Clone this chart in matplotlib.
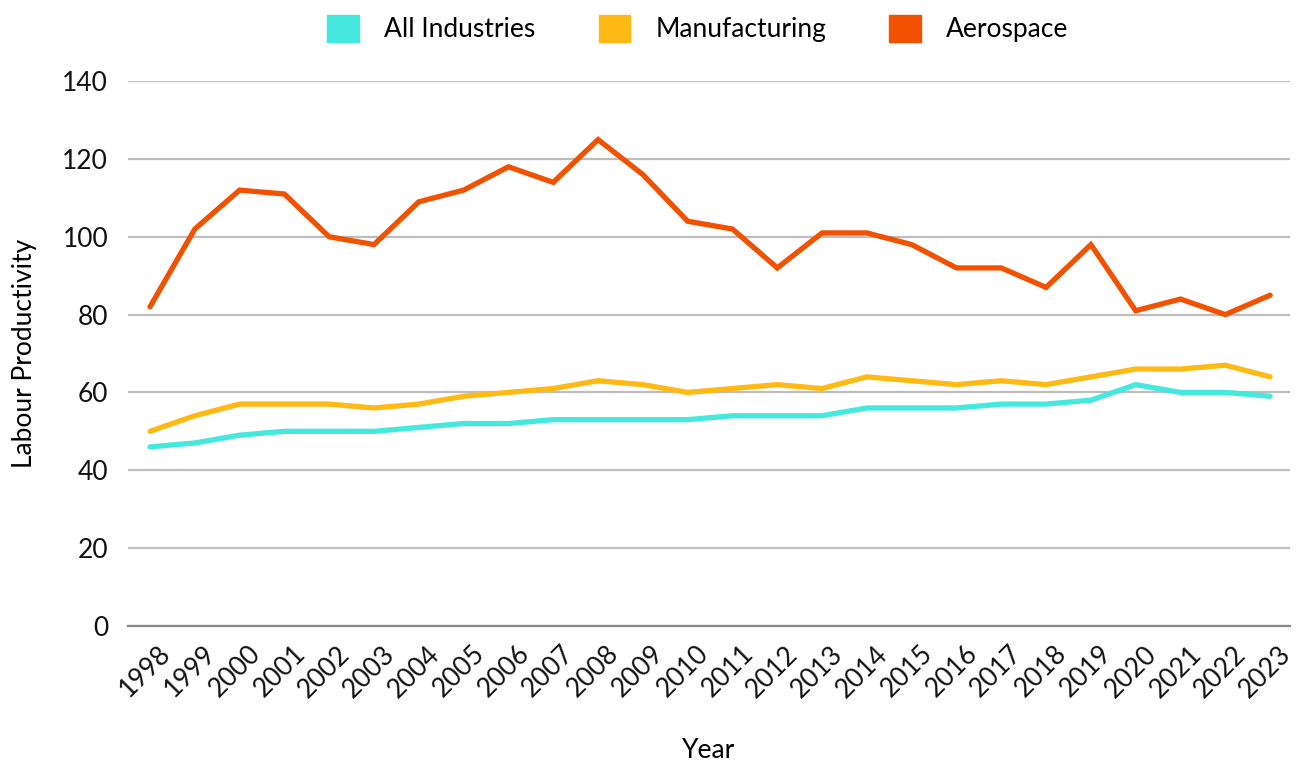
import matplotlib
matplotlib.use('Agg')
import matplotlib.pyplot as plt
import matplotlib.transforms as mtransforms
from matplotlib.patches import Patch

plt.rcParams['font.family'] = ['Lato', 'DejaVu Sans']

years = list(range(1998, 2024))
all_industries = [46, 47, 49, 50, 50, 50, 51, 52, 52, 53, 53, 53, 53, 54, 54, 54, 56, 56, 56, 57, 57, 58, 62, 60, 60, 59]
manufacturing = [50, 54, 57, 57, 57, 56, 57, 59, 60, 61, 63, 62, 60, 61, 62, 61, 64, 63, 62, 63, 62, 64, 66, 66, 67, 64]
aerospace = [82, 102, 112, 111, 100, 98, 109, 112, 118, 114, 125, 116, 104, 102, 92, 101, 101, 98, 92, 92, 87, 98, 81, 84, 80, 85]

series = ['All Industries', 'Manufacturing', 'Aerospace']
colors = ['#45E8DC', '#FFB914', '#F25100']

fig = plt.figure(figsize=(13.02, 7.66), dpi=100)
ax = fig.add_axes([0.098, 0.183, 0.893, 0.711])

for vals, c in zip([all_industries, manufacturing, aerospace], colors):
    ax.plot(years, vals, color=c, lw=3.8, solid_capstyle='round', solid_joinstyle='miter')

ax.set_ylim(0, 140)
ax.set_xlim(1997.5, 2023.45)
ax.set_yticks(range(0, 141, 20))
ax.set_xticks(years)
ax.set_xticklabels([str(y) for y in years], rotation=45, ha='right', rotation_mode='anchor')
ax.tick_params(axis='both', length=0, labelsize=19, colors='#111111')
ax.tick_params(axis='y', pad=14)
ax.tick_params(axis='x', pad=11)
# nudge the rotated year labels a bit to the right
shift = mtransforms.ScaledTranslation(0.08, 0, fig.dpi_scale_trans)
for lbl in ax.get_xticklabels():
    lbl.set_transform(lbl.get_transform() + shift)

ax.grid(axis='y', color='#bdbdbd', lw=1.6)
ax.set_axisbelow(True)
for s in ['top', 'right', 'left']:
    ax.spines[s].set_visible(False)
ax.spines['bottom'].set_color('#888888')
ax.spines['bottom'].set_linewidth(1.6)

ax.set_ylabel('Labour Productivity', fontsize=19, labelpad=18)
ax.set_xlabel('Year', fontsize=19, labelpad=26)

handles = [Patch(facecolor=c, edgecolor=c) for c in colors]
fig.legend(handles, series, loc='upper center', bbox_to_anchor=(0.536, 1.012), ncol=3,
           frameon=False, fontsize=19, handlelength=1.2, handleheight=1.2,
           columnspacing=2.4, handletextpad=0.95)

fig.savefig('out.png', dpi=100)
